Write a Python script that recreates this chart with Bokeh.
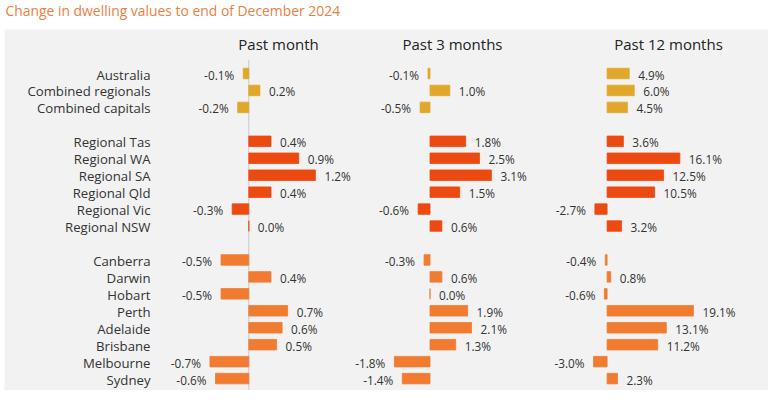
from bokeh.plotting import figure
from bokeh.models import Range1d, ColumnDataSource
from bokeh.core.properties import value
from bokeh.embed import file_html
from bokeh.resources import INLINE

# ---------------- data ----------------
title_text = "Change in dwelling values to end of December 2024"
panel_titles = ["Past month", "Past 3 months", "Past 12 months"]
categories = ["Australia", "Combined regionals", "Combined capitals",
              "Regional Tas", "Regional WA", "Regional SA", "Regional Qld",
              "Regional Vic", "Regional NSW",
              "Canberra", "Darwin", "Hobart", "Perth", "Adelaide", "Brisbane",
              "Melbourne", "Sydney"]
groups = [0, 0, 0, 1, 1, 1, 1, 1, 1, 2, 2, 2, 2, 2, 2, 2, 2]
past_month = [-0.1, 0.2, -0.2, 0.4, 0.9, 1.2, 0.4, -0.3, 0.0,
              -0.5, 0.4, -0.5, 0.7, 0.6, 0.5, -0.7, -0.6]
past_3_months = [-0.1, 1.0, -0.5, 1.8, 2.5, 3.1, 1.5, -0.6, 0.6,
                 -0.3, 0.6, 0.0, 1.9, 2.1, 1.3, -1.8, -1.4]
past_12_months = [4.9, 6.0, 4.5, 3.6, 16.1, 12.5, 10.5, -2.7, 3.2,
                  -0.4, 0.8, -0.6, 19.1, 13.1, 11.2, -3.0, 2.3]

# ---------------- styles / layout ----------------
W, H = 768, 390
FONT = "Open Sans"
group_colors = ["#E1A72A", "#EC4A10", "#F07B31"]
panel_zero_px = [248.3, 429.5, 606.6]
panel_px_per_pct = [55.5, 19.8, 4.52]
panel_head_x = [278, 452, 668]
row0_px, row_step = 73.0, 16.95

rows = [i + g for i, g in enumerate(groups)]
colors = [group_colors[g] for g in groups]

p = figure(width=W, height=H, output_backend="svg", toolbar_location=None,
           x_axis_type=None, y_axis_type=None,
           x_range=Range1d(0, W), y_range=Range1d(H, 0),
           min_border=0, min_border_left=0, min_border_right=0,
           min_border_top=0, min_border_bottom=0)
p.outline_line_color = None
p.background_fill_color = "white"
p.border_fill_color = "white"
p.grid.visible = False

# row range (inverted: first row at top)
p.extra_y_ranges = {"rows": Range1d(start=(H - row0_px) / row_step,
                                    end=-row0_px / row_step)}
names = ["m1", "m3", "m12"]
for nm, z, s in zip(names, panel_zero_px, panel_px_per_pct):
    p.extra_x_ranges[nm] = Range1d(start=-z / s, end=(W - z) / s)

# gray panel
p.quad(left=[4], right=[W], top=[29], bottom=[H],
       fill_color="#F2F2F2", line_color=None)

# title
p.text(x=[5], y=[10], text=[title_text], text_font=value(FONT),
       text_font_size="13.9px", text_color="#E9803F",
       text_baseline="middle", text_align="left")

# panel headings
p.text(x=panel_head_x, y=[43, 43, 43], text=panel_titles, text_font=value(FONT),
       text_font_size="15px", text_color="#222222",
       text_baseline="middle", text_align="center")

# category labels
p.text(x=[150] * len(categories), y=rows, text=categories,
       y_range_name="rows", text_font=value(FONT), text_font_size="13.2px",
       text_color="#333333", text_baseline="middle", text_align="right",
       y_offset=1)

# zero line for the past month panel
p.segment(x0=[0], x1=[0], y0=[-0.8], y1=[19.5], x_range_name="m1",
          y_range_name="rows", line_color="#C8C8C8", line_width=1)

for nm, vals in zip(names, [past_month, past_3_months, past_12_months]):
    src = ColumnDataSource(dict(
        y=rows, v=vals, c=colors,
        lab=[f"{v:.1f}%" for v in vals],
        align=["right" if v < 0 else "left" for v in vals],
        off=[-9 if v < 0 else 9 for v in vals]))
    p.hbar(y="y", left=0, right="v", height=0.62, fill_color="c",
           line_color="c", line_width=0.8, source=src,
           x_range_name=nm, y_range_name="rows")
    p.text(x="v", y="y", text="lab", text_align="align", x_offset="off",
           y_offset=1, text_baseline="middle", text_font=value(FONT),
           text_font_size="11.8px", text_color="#333333", source=src,
           x_range_name=nm, y_range_name="rows")

open("out.html", "w").write(file_html(p, INLINE))
